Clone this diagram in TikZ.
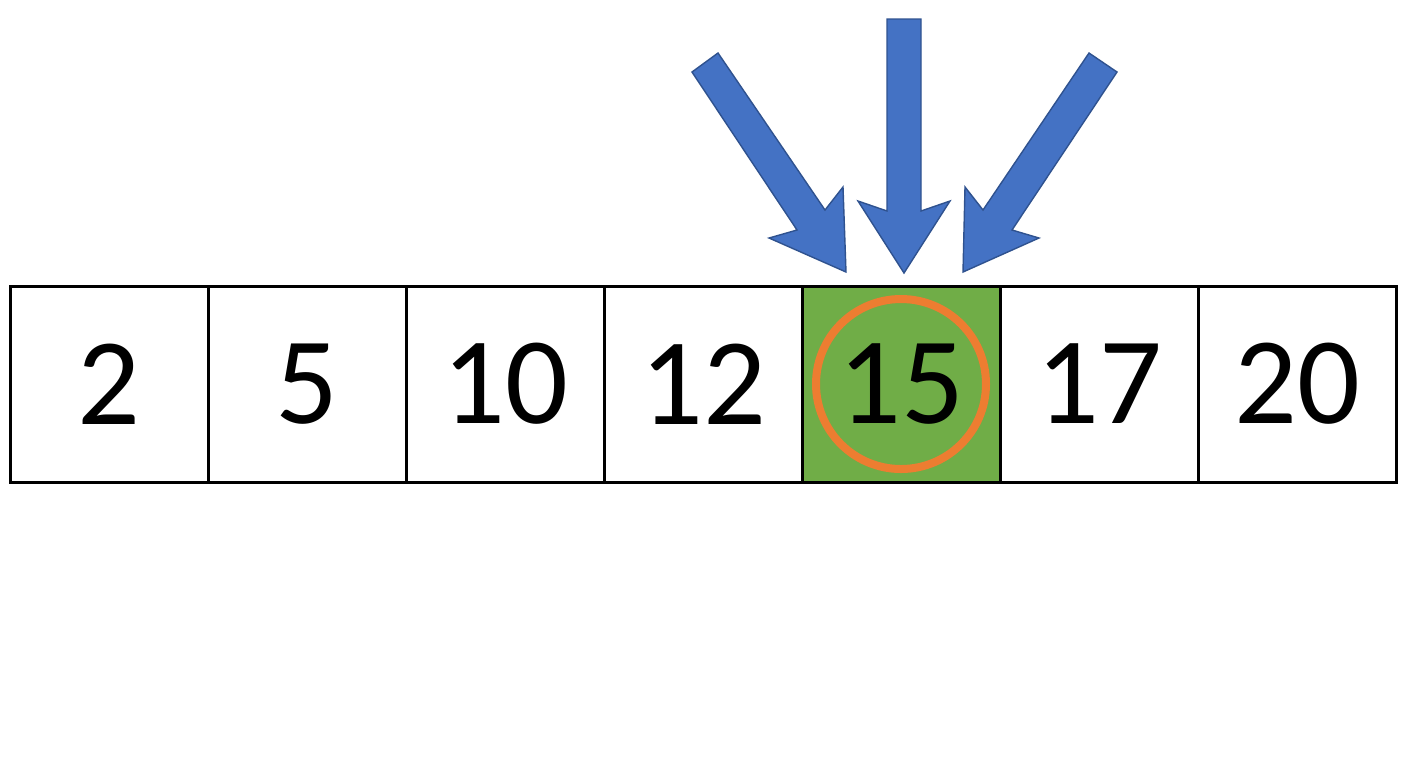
\documentclass[tikz,border=0pt]{standalone}
\usepackage{fontspec}
\setmainfont{Carlito}
\definecolor{cellgreen}{HTML}{70AD47}
\definecolor{ringorange}{HTML}{ED7D31}
\definecolor{arrowblue}{HTML}{4472C4}
\definecolor{arrowedge}{HTML}{2F528F}
\begin{document}
\begin{tikzpicture}[x=0.5pt,y=-0.5pt,
  cell/.style={draw=black, line width=1.5pt, minimum width=99pt, minimum height=98pt,
    inner sep=0pt, outer sep=0pt, font=\fontsize{62}{66}\selectfont, fill=white},
  hitcell/.style={cell, fill=cellgreen},
  blockarrow/.style={fill=arrowblue, draw=arrowedge, line width=0.7pt, line join=miter},
  ring/.style={draw=ringorange, line width=4pt}]
\useasboundingbox (0,0) rectangle (1408,768);
\node[cell] (c0) at (109,384) {2};
\node[cell] (c1) at (307,384) {5};
\node[cell] (c2) at (505,384) {10};
\node[cell] (c3) at (703,384) {12};
\node[hitcell] (c4) at (901,384) {15};
\node[cell] (c5) at (1099,384) {17};
\node[cell] (c6) at (1297,384) {20};
\draw[ring] (c4.center) circle (85);
% left arrow
\draw[blockarrow] (692,72) -- (797,230) -- (769,238) -- (846,272) -- (843,187) -- (825,210) -- (718,53) -- cycle;
% middle arrow
\draw[blockarrow] (887,19) -- (921,19) -- (921,211) -- (950,201) -- (904,273) -- (858,201) -- (887,211) -- cycle;
% right arrow
\draw[blockarrow] (1117,72) -- (1012,230) -- (1039,238) -- (963,272) -- (965,187) -- (983,210) -- (1089,53) -- cycle;
\end{tikzpicture}
\end{document}
